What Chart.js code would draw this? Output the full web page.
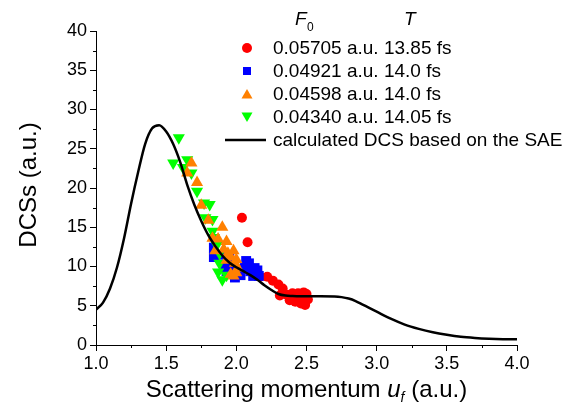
<!DOCTYPE html>
<html>
<head>
<meta charset="utf-8">
<script src="https://cdn.jsdelivr.net/npm/chart.js@4"></script>
<style>
  html, body { margin: 0; padding: 0; background: #fff; }
</style>
</head>
<body>
<canvas id="dcsChart" width="576" height="407"></canvas>
<script>
// Calculated DCS (SAE) curve
const curveX = [1.00, 1.05, 1.10, 1.15, 1.20, 1.25, 1.30, 1.35, 1.40, 1.45, 1.50, 1.55, 1.60, 1.65, 1.70, 1.75,
    1.80, 1.85, 1.90, 1.95, 2.00, 2.05, 2.10, 2.15, 2.20, 2.25, 2.30, 2.35, 2.40, 2.50, 2.60, 2.70, 2.75, 2.80,
    2.85, 2.90, 2.95, 3.00, 3.10, 3.20, 3.30, 3.40, 3.50, 3.60, 3.70, 3.80, 3.90, 4.00];
const curveY = [4.5, 5.4, 7.2, 9.9, 13.6, 18.0, 22.0, 25.6, 27.6, 28.0, 27.2, 25.6, 23.3, 20.4, 17.9, 15.8,
    14.0, 12.6, 11.4, 10.5, 9.9, 9.4, 8.9, 8.3, 7.6, 7.0, 6.5, 6.3, 6.25, 6.2, 6.2, 6.18, 6.1, 5.92,
    5.6, 5.15, 4.7, 4.25, 3.35, 2.6, 2.05, 1.62, 1.3, 1.05, 0.9, 0.8, 0.74, 0.72];

// Measured DCSs, one pair of arrays per laser setting
const redX = [2.04, 2.08, 2.15, 2.17, 2.22, 2.26, 2.30, 2.33, 2.31, 2.36, 2.38, 2.40, 2.42, 2.44, 2.46, 2.48, 2.50, 2.49, 2.51, 2.47];
const redY = [16.2, 13.1, 9.3, 8.7, 8.7, 8.2, 7.7, 7.2, 6.3, 6.4, 5.7, 6.6, 5.5, 6.6, 5.3, 6.7, 6.5, 5.1, 5.8, 6.0];
const blueX = [1.84, 1.84, 1.90, 1.92, 1.93, 1.96, 1.99, 2.03, 2.06, 2.07, 2.09, 2.10, 2.13, 2.12, 2.16, 2.15, 1.95];
const blueY = [12.4, 11.2, 11.5, 10.1, 9.4, 9.6, 8.6, 8.9, 9.8, 10.7, 10.4, 9.4, 9.8, 8.8, 8.8, 9.5, 11.0];
const orangeX = [1.68, 1.65, 1.72, 1.75, 1.80, 1.90, 1.83, 1.87, 1.93, 1.85, 1.91, 1.94, 1.98, 1.96, 2.00, 1.93, 1.99, 2.01, 2.00, 1.98, 1.96];
const orangeY = [23.2, 21.9, 20.7, 17.8, 15.9, 15.0, 13.6, 13.5, 13.2, 12.0, 12.2, 11.7, 12.0, 11.2, 10.9, 10.8, 10.4, 9.8, 9.2, 8.8, 9.0];
const greenX = [1.59, 1.55, 1.65, 1.62, 1.68, 1.72, 1.77, 1.81, 1.78, 1.83, 1.83, 1.84, 1.86, 1.88, 1.88, 1.87, 1.90, 1.93];
const greenY = [26.4, 23.2, 23.6, 22.6, 21.9, 19.6, 18.1, 17.9, 16.2, 16.0, 14.5, 13.7, 12.7, 11.7, 10.4, 9.3, 8.3, 8.9];

// Legend text
const fieldLabels = ['0.05705 a.u.', '0.04921 a.u.', '0.04598 a.u.', '0.04340 a.u.'];
const periodLabels = ['13.85 fs', '14.0 fs', '14.0 fs', '14.05 fs'];
const curveLabel = 'calculated DCS based on the SAE';

// Tick labels
const xTickValues = [1.0, 1.5, 2.0, 2.5, 3.0, 3.5, 4.0];
const yTickValues = [0, 5, 10, 15, 20, 25, 30, 35, 40];

const FONT = "'Liberation Sans', Arial, sans-serif";

function toPoints(xs, ys) {
    return xs.map((x, i) => ({ x: x, y: ys[i] }));
}

// legend markers, drawn by hand
function drawMarker(ctx, style, x, y, s) {
    ctx.beginPath();
    if (style === 'circle') {
        ctx.arc(x, y, s * 0.5, 0, Math.PI * 2);
    } else if (style === 'rect') {
        ctx.rect(x - s * 0.4, y - s * 0.4, s * 0.8, s * 0.8);
    } else if (style === 'up') {
        ctx.moveTo(x, y - s * 0.5);
        ctx.lineTo(x + s * 0.55, y + s * 0.45);
        ctx.lineTo(x - s * 0.55, y + s * 0.45);
    } else {
        ctx.moveTo(x, y + s * 0.5);
        ctx.lineTo(x + s * 0.55, y - s * 0.45);
        ctx.lineTo(x - s * 0.55, y - s * 0.45);
    }
    ctx.closePath();
    ctx.fill();
}

const extrasPlugin = {
    id: 'extras',
    afterDraw(chart) {
        const ctx = chart.ctx;
        const xs = chart.scales.x;
        const ys = chart.scales.y;
        const area = chart.chartArea;
        ctx.save();
        ctx.strokeStyle = '#000';
        ctx.lineWidth = 1;

        // minor ticks
        for (let i = 0; i < xTickValues.length - 1; i++) {
            const px = Math.round(xs.getPixelForValue((xTickValues[i] + xTickValues[i + 1]) / 2)) + 0.5;
            ctx.beginPath();
            ctx.moveTo(px, area.bottom);
            ctx.lineTo(px, area.bottom + 3);
            ctx.stroke();
        }
        for (let i = 0; i < yTickValues.length - 1; i++) {
            const py = Math.round(ys.getPixelForValue((yTickValues[i] + yTickValues[i + 1]) / 2)) + 0.5;
            ctx.beginPath();
            ctx.moveTo(area.left, py);
            ctx.lineTo(area.left - 3, py);
            ctx.stroke();
        }

        ctx.fillStyle = '#000';

        // y title
        ctx.save();
        ctx.translate(29, 185);
        ctx.rotate(-Math.PI / 2);
        ctx.font = '24px ' + FONT;
        ctx.textAlign = 'center';
        ctx.textBaseline = 'middle';
        ctx.fillText('DCSs (a.u.)', 0, 0);
        ctx.restore();

        // x title with italic u and subscript f
        const parts = [
            { t: 'Scattering momentum ', f: '24px ' + FONT, dy: 0 },
            { t: 'u', f: 'italic 24px ' + FONT, dy: 0 },
            { t: 'f', f: 'italic 14px ' + FONT, dy: 5 },
            { t: ' (a.u.)', f: '24px ' + FONT, dy: 0 }
        ];
        let total = 0;
        parts.forEach(p => { ctx.font = p.f; p.w = ctx.measureText(p.t).width; total += p.w; });
        let tx = (area.left + area.right) / 2 - total / 2;
        ctx.textAlign = 'left';
        ctx.textBaseline = 'alphabetic';
        parts.forEach(p => { ctx.font = p.f; ctx.fillText(p.t, tx, 397 + p.dy); tx += p.w; });

        // legend header
        ctx.font = 'italic 19px ' + FONT;
        ctx.fillText('F', 295, 25);
        ctx.fillText('T', 404, 25);
        ctx.font = '12px ' + FONT;
        ctx.fillText('0', 307, 31);

        // legend rows
        const rows = [
            { style: 'circle', color: '#ff0000', size: 10 },
            { style: 'rect', color: '#0000ff', size: 10 },
            { style: 'up', color: '#ff8000', size: 10 },
            { style: 'down', color: '#00ff00', size: 10 }
        ];
        const rowY = [48, 71, 94, 117];
        ctx.font = '19px ' + FONT;
        ctx.textBaseline = 'middle';
        rows.forEach((r, i) => {
            ctx.fillStyle = r.color;
            drawMarker(ctx, r.style, 247, rowY[i], r.size);
            ctx.fillStyle = '#000';
            ctx.fillText(fieldLabels[i] + ' ' + periodLabels[i], 273, rowY[i] + 1);
        });
        ctx.lineWidth = 2.5;
        ctx.beginPath();
        ctx.moveTo(225, 140);
        ctx.lineTo(266, 140);
        ctx.stroke();
        ctx.fillText(curveLabel, 273, 141);
        ctx.restore();
    }
};

const dcsConfig = {
    type: 'scatter',
    data: {
        datasets: [
            {
                label: curveLabel,
                data: toPoints(curveX, curveY),
                showLine: true,
                borderColor: '#000',
                borderWidth: 2.5,
                pointRadius: 0,
                cubicInterpolationMode: 'monotone',
                order: 0
            },
            {
                label: fieldLabels[3],
                data: toPoints(greenX, greenY),
                pointStyle: 'triangle',
                rotation: 180,
                pointRadius: 7,
                backgroundColor: '#00ff00',
                borderWidth: 0,
                order: 2
            },
            {
                label: fieldLabels[2],
                data: toPoints(orangeX, orangeY),
                pointStyle: 'triangle',
                pointRadius: 7,
                backgroundColor: '#ff8000',
                borderWidth: 0,
                order: 1
            },
            {
                label: fieldLabels[1],
                data: toPoints(blueX, blueY),
                pointStyle: 'rect',
                pointRadius: 7,
                backgroundColor: '#0000ff',
                borderWidth: 0,
                order: 3
            },
            {
                label: fieldLabels[0],
                data: toPoints(redX, redY),
                pointStyle: 'circle',
                pointRadius: 5,
                backgroundColor: '#ff0000',
                borderWidth: 0,
                order: 4
            }
        ]
    },
    options: {
        responsive: false,
        animation: false,
        events: [],
        layout: { padding: { left: 0, top: 31, right: 59, bottom: 0 } },
        plugins: {
            legend: { display: false },
            tooltip: { enabled: false }
        },
        scales: {
            x: {
                type: 'linear',
                min: 1,
                max: 4,
                afterBuildTicks: scale => { scale.ticks = xTickValues.map(v => ({ value: v })); },
                afterFit: scale => { scale.height = 62; },
                ticks: {
                    color: '#000',
                    padding: 2,
                    font: { family: FONT, size: 18 },
                    callback: v => v.toFixed(1)
                },
                grid: { drawOnChartArea: false, tickLength: 6, color: '#000' },
                border: { color: '#000', width: 1 }
            },
            y: {
                min: 0,
                max: 40,
                afterBuildTicks: scale => { scale.ticks = yTickValues.map(v => ({ value: v })); },
                afterFit: scale => { scale.width = 96; },
                ticks: {
                    color: '#000',
                    padding: 3,
                    font: { family: FONT, size: 18 }
                },
                grid: { drawOnChartArea: false, tickLength: 6, color: '#000' },
                border: { color: '#000', width: 1 }
            }
        }
    },
    plugins: [extrasPlugin]
};

const dcsCtx = document.getElementById('dcsChart').getContext('2d');
new Chart(dcsCtx, dcsConfig);
</script>
</body>
</html>
